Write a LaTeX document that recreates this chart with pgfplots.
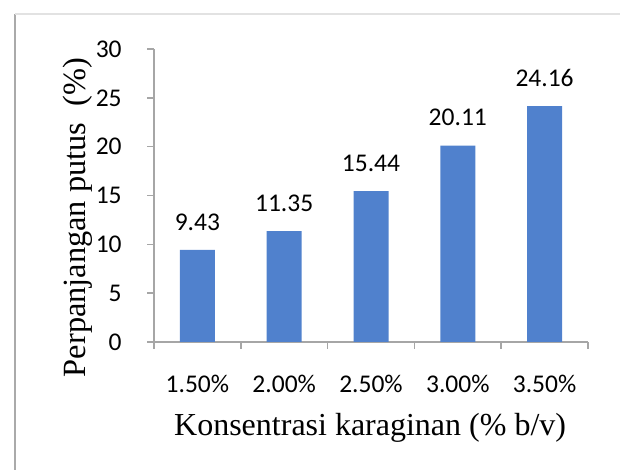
\documentclass[border=0pt]{standalone}
\usepackage{fontspec}
\setmainfont{Carlito}
\newfontfamily\tnr{Liberation Serif}
\usepackage{pgfplots}
\pgfplotsset{compat=1.18}
\definecolor{barblue}{RGB}{80,129,205}
\definecolor{axgray}{RGB}{166,166,166}
\definecolor{framegray}{RGB}{170,170,170}
\definecolor{framelight}{RGB}{226,226,226}
\begin{document}
\begin{tikzpicture}
\useasboundingbox (0,0) rectangle (310pt,235pt);
\draw[framegray, line width=0.9pt] (7.5pt,0) -- (7.5pt,228pt);
\draw[framelight, line width=0.6pt] (7.5pt,228pt) -- (310pt,228pt);
\begin{axis}[
  at={(77pt,64pt)}, anchor=south west,
  scale only axis, width=217pt, height=146.5pt,
  xmin=-0.5, xmax=4.5, ymin=0, ymax=30,
  axis x line*=bottom, axis y line*=left,
  axis line style={axgray, line width=0.75pt},
  tick align=outside,
  major tick length=3.5pt,
  tick style={axgray, line width=0.75pt},
  xtick={-0.5,0.5,1.5,2.5,3.5,4.5},
  xticklabels={},
  extra x ticks={0,1,2,3,4},
  extra x tick labels={1.50\%,2.00\%,2.50\%,3.00\%,3.50\%},
  extra x tick style={tick style={draw=none}, xticklabel style={anchor=base, yshift=-22pt, inner sep=0pt}},
  ytick={0,5,...,30},
  yticklabel style={anchor=east, inner sep=0pt, xshift=-12.5pt},
  tick label style={font=\fontsize{12.75}{15}\selectfont},
  /pgf/number format/assume math mode=true,
  xlabel={Konsentrasi karaginan (\% b/v)},
  xlabel style={font=\tnr\fontsize{16}{19}\selectfont, at={(axis description cs:0.498,-0.294)}, anchor=center},
  ylabel={Perpanjangan putus\ \ (\%)},
  ylabel style={font=\tnr\fontsize{16.2}{19}\selectfont, at={(axis description cs:-0.175,0.425)}, anchor=center, inner sep=0pt},
  ybar, bar width=17.5pt,
  nodes near coords,
  point meta=explicit symbolic,
  every node near coord/.append style={anchor=south, inner sep=0pt, yshift=9.5pt, font=\fontsize{12.75}{15}\selectfont, text=black},
]
\addplot[fill=barblue, draw=none] coordinates {
  (0,9.43) [9.43]
  (1,11.35) [11.35]
  (2,15.44) [15.44]
  (3,20.11) [20.11]
  (4,24.16) [24.16]
};
\end{axis}
\end{tikzpicture}
\end{document}
